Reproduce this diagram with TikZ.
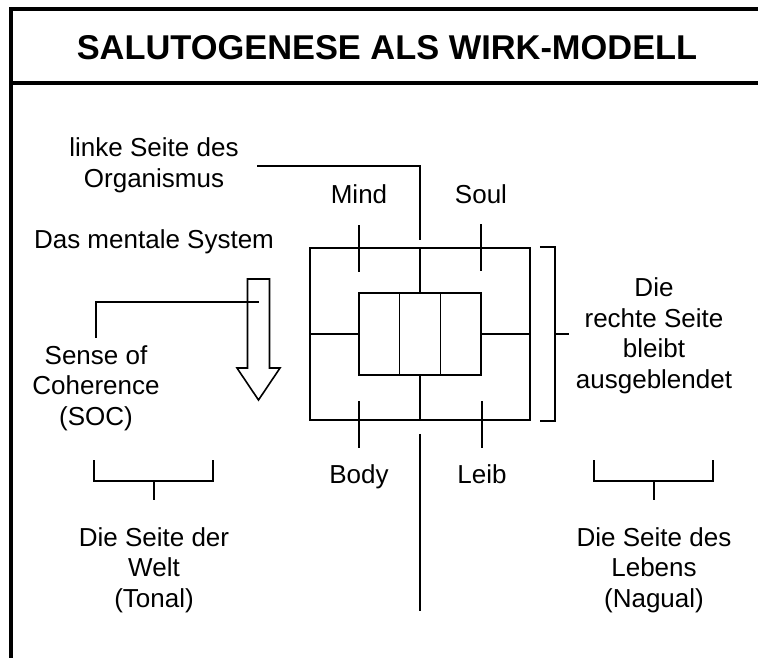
\documentclass[tikz,border=0pt]{standalone}
\usepackage{fontspec}
\setmainfont{Liberation Sans}
\usetikzlibrary{calc}

\begin{document}
\begin{tikzpicture}[
  x=1pt, y=-1pt,
  ln/.style={line width=1.6pt},
  rahmen/.style={line width=4pt},
  txt/.style={font=\fontsize{26}{30.5}\selectfont, align=center, inner sep=0pt, anchor=base},
  kasten/.style={draw, ln, rectangle, inner sep=0pt},
]
\clip (0,0) rectangle (758,657);
\fill[white] (0,0) rectangle (758,657);

% Rahmen und Titel
\draw[rahmen] (10.5,700) -- (10.5,8.7) -- (800,8.7);
\draw[rahmen] (10.5,82.7) -- (800,82.7);
\node[font=\bfseries\fontsize{34.4}{40}\selectfont, inner sep=0pt, anchor=base] (titel)
     at (387,59) {SALUTOGENESE ALS WIRK-MODELL};

% Beschriftungen (base = letzte Zeile)
\node[txt] (linke) at (154,187) {linke Seite des\\Organismus};
\node[txt] (mental) at (154,248) {Das mentale System};
\node[txt] (soc) at (96,425) {Sense of\\Coherence\\(SOC)};
\node[txt] (mind) at (359,203) {Mind};
\node[txt] (soul) at (481,203) {Soul};
\node[txt] (body) at (359,483) {Body};
\node[txt] (leib) at (482,483) {Leib};
\node[txt] (rechts) at (654,388) {Die\\rechte Seite\\bleibt\\ausgeblendet};
\node[txt] (welt) at (154,607) {Die Seite der\\Welt\\(Tonal)};
\node[txt] (leben) at (654,607) {Die Seite des\\Lebens\\(Nagual)};

% Modell
\node[kasten, minimum width=220pt, minimum height=172pt] (aussen) at (420,334) {};
\node[kasten, minimum width=122pt, minimum height=82pt] (innen) at (420,334) {};
\foreach \t in {1,2}
  \draw[ln] ($(innen.north west)!\t/3!(innen.north east)$)
         -- ($(innen.south west)!\t/3!(innen.south east)$);
\draw[ln] (aussen.north) -- (innen.north);
\draw[ln] (innen.south) -- (aussen.south);
\draw[ln] (aussen.west) -- (innen.west);
\draw[ln] (innen.east) -- (aussen.east);

% Achse
\coordinate (lk) at (257,166);
\coordinate (mitte) at (420,240);
\draw[ln] (lk) -| (mitte);
\draw[ln] ([yshift=-13pt]aussen.south) -- ++(0,177);

% Striche zu den Beschriftungen
\draw[ln] (mind.base) ++(0,22) -- ++(0,47);
\draw[ln] (soul.base) ++(0,21) -- ++(0,47);
\draw[ln] (body.base) ++(0,-82) -- ++(0,47);
\draw[ln] (leib.base) ++(0,-82) -- ++(0,47);

% Klammer rechts
\draw[ln] ([xshift=9pt]aussen.north east) -- ++(15,0) |- ([xshift=9pt]aussen.south east);
\draw[ln] ([xshift=24pt]aussen.east) -- ++(14,0);

% Pfeil
\coordinate (pfeil) at (258.5,302);
\draw[ln] (247.5,279) -- (269.5,279) -- (269.5,368) -- (280,368) -- (258.5,400)
       -- (237,368) -- (247.5,368) -- cycle;
\draw[ln] ([yshift=7pt]soc.north) |- (pfeil);

% Klammern unten
\foreach \n in {welt,leben} {
  \draw[ln] ($(\n.base)+(-60,-147)$) |- ($(\n.base)+(59,-126)$) -- ++(0,-21);
  \draw[ln] ($(\n.base)+(0,-126)$) -- ++(0,19);
}
\end{tikzpicture}
\end{document}
